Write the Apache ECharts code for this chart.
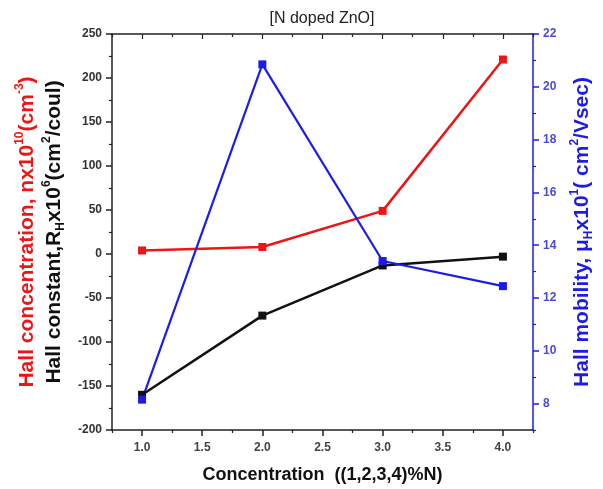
<!DOCTYPE html>
<html>
<head>
<meta charset="utf-8">
<script src="https://cdn.jsdelivr.net/npm/echarts@6/dist/echarts.min.js"></script>
<style>html,body{margin:0;padding:0;background:#fff}#c{width:603px;height:489px}</style>
</head>
<body>
<div id="c"></div>
<script>
// ---- data ----
const concentration = [1, 2, 3, 4];
const hallConcentration = [4, 8, 49, 221];      // n x10^10 (cm^-3), left axis
const hallConstant = [-160, -70, -13, -3];      // R_H x10^6 (cm^2/coul), left axis
const hallMobility = [8.15, 20.85, 13.4, 12.45];// mu_H x10^1 (cm^2/Vsec), right axis
const xMajorTicks = [1, 1.5, 2, 2.5, 3, 3.5, 4];
const xMinorTicks = [0.75, 1.25, 1.75, 2.25, 2.75, 3.25, 3.75, 4.25];
const rightMajorTicks = [8, 10, 12, 14, 16, 18, 20, 22];
const rightMinorTicks = [7, 9, 11, 13, 15, 17, 19, 21];

const FONT = "'Liberation Sans', Arial, sans-serif";
const BLUE = '#1c1ce8';
const pair = (xs, ys) => xs.map((x, i) => [x, ys[i]]);

const nameRich = (color) => ({
  n: {fontSize: 21, fontWeight: 'bold', color: color, fontFamily: FONT, lineHeight: 26},
  sup: {fontSize: 12, fontWeight: 'bold', color: color, fontFamily: FONT, verticalAlign: 'top', lineHeight: 26},
  sub: {fontSize: 12, fontWeight: 'bold', color: color, fontFamily: FONT, verticalAlign: 'bottom', lineHeight: 22}
});

const chart = echarts.init(document.getElementById('c'), null, {renderer: 'canvas'});
const xBase = {type: 'value', min: 0.75, max: 4.25, splitLine: {show: false}, gridIndex: 0};
const lineDark = {onZero: false, lineStyle: {color: '#222', width: 1.5}};
const noLine = {show: false, onZero: false};

chart.setOption({
  animation: false,
  backgroundColor: '#fff',
  title: {
    text: '[N doped ZnO]', left: 317, top: 6, textAlign: 'center',
    textStyle: {fontSize: 16, fontWeight: 'normal', color: '#222', fontFamily: FONT}
  },
  grid: {left: 112, right: 70, top: 34, bottom: 56},
  xAxis: [
    Object.assign({}, xBase, {
      position: 'bottom',
      axisLine: lineDark,
      axisTick: {show: true, inside: false, length: 6, customValues: xMajorTicks, lineStyle: {color: '#222', width: 1.5}},
      axisLabel: {customValues: xMajorTicks, formatter: v => v.toFixed(1), margin: 12, fontSize: 12, fontWeight: 'bold', color: '#444', fontFamily: FONT},
      name: 'Concentration  ((1,2,3,4)%N)', nameLocation: 'middle', nameGap: 36,
      nameTextStyle: {fontSize: 18, fontWeight: 'bold', color: '#111', fontFamily: FONT}
    }),
    Object.assign({}, xBase, {
      position: 'bottom', axisLine: noLine,
      axisTick: {show: true, length: 3, customValues: xMinorTicks, lineStyle: {color: '#222', width: 1.2}},
      axisLabel: {show: false}
    }),
    Object.assign({}, xBase, {
      position: 'top', axisLine: lineDark,
      axisTick: {show: true, inside: true, length: 5, customValues: xMajorTicks, lineStyle: {color: '#222', width: 1.2}},
      axisLabel: {show: false}
    }),
    Object.assign({}, xBase, {
      position: 'top', axisLine: noLine,
      axisTick: {show: true, inside: true, length: 3, customValues: xMinorTicks, lineStyle: {color: '#222', width: 1.2}},
      axisLabel: {show: false}
    })
  ],
  yAxis: [
    {
      type: 'value', position: 'left', min: -200, max: 250, interval: 50,
      splitLine: {show: false},
      axisLine: {show: true, onZero: false, lineStyle: {color: '#222', width: 1.5}},
      axisTick: {show: true, length: 6, lineStyle: {color: '#222', width: 1.5}},
      minorTick: {show: true, splitNumber: 2, length: 3, lineStyle: {color: '#222', width: 1.2}},
      axisLabel: {margin: 10, fontSize: 12, fontWeight: 'bold', color: '#333', fontFamily: FONT},
      name: '{n|Hall constant,R}{sub|H}{n|x10}{sup|6}{n|(cm}{sup|2}{n|/coul)}',
      nameLocation: 'middle', nameRotate: 90, nameGap: 42,
      nameTextStyle: {rich: nameRich('#111')}
    },
    {
      type: 'value', position: 'right', min: 7, max: 22,
      splitLine: {show: false},
      axisLine: {show: true, onZero: false, lineStyle: {color: BLUE, width: 1.5}},
      axisTick: {show: true, length: 6, customValues: rightMajorTicks, lineStyle: {color: BLUE, width: 1.5}},
      axisLabel: {customValues: rightMajorTicks, margin: 10, fontSize: 12, fontWeight: 'bold', color: '#4a4ad8', fontFamily: FONT},
      name: '{n|Hall mobility, \u03bc}{sub|H}{n|x10}{sup|1}{n|( cm}{sup|2}{n|/Vsec)}',
      nameLocation: 'middle', nameRotate: 90, nameGap: 36,
      nameTextStyle: {rich: nameRich(BLUE)}
    },
    {
      type: 'value', position: 'left', min: -200, max: 250, interval: 50,
      splitLine: {show: false}, axisLine: noLine, axisTick: {show: false}, axisLabel: {show: false},
      name: '{n|Hall concentration, nx10}{sup|10}{n|(cm}{sup|-3}{n|)}',
      nameLocation: 'middle', nameRotate: 90, nameGap: 72,
      nameTextStyle: {rich: nameRich('#ee1515')}
    },
    {
      type: 'value', position: 'right', min: 7, max: 22,
      splitLine: {show: false}, axisLine: noLine,
      axisTick: {show: true, length: 3, customValues: rightMinorTicks, lineStyle: {color: BLUE, width: 1.2}},
      axisLabel: {show: false}
    }
  ],
  series: [
    {
      type: 'line', name: 'Hall constant', xAxisIndex: 0, yAxisIndex: 0,
      data: pair(concentration, hallConstant),
      symbol: 'rect', symbolSize: 8, color: '#111',
      lineStyle: {width: 2.5, color: '#111'}
    },
    {
      type: 'line', name: 'Hall concentration', xAxisIndex: 0, yAxisIndex: 0,
      data: pair(concentration, hallConcentration),
      symbol: 'rect', symbolSize: 8, color: '#ee1515',
      lineStyle: {width: 2.5, color: '#ee1515'}
    },
    {
      type: 'line', name: 'Hall mobility', xAxisIndex: 0, yAxisIndex: 1,
      data: pair(concentration, hallMobility),
      symbol: 'rect', symbolSize: 8, color: BLUE,
      lineStyle: {width: 2.2, color: BLUE}
    }
  ]
});
</script>
</body>
</html>
